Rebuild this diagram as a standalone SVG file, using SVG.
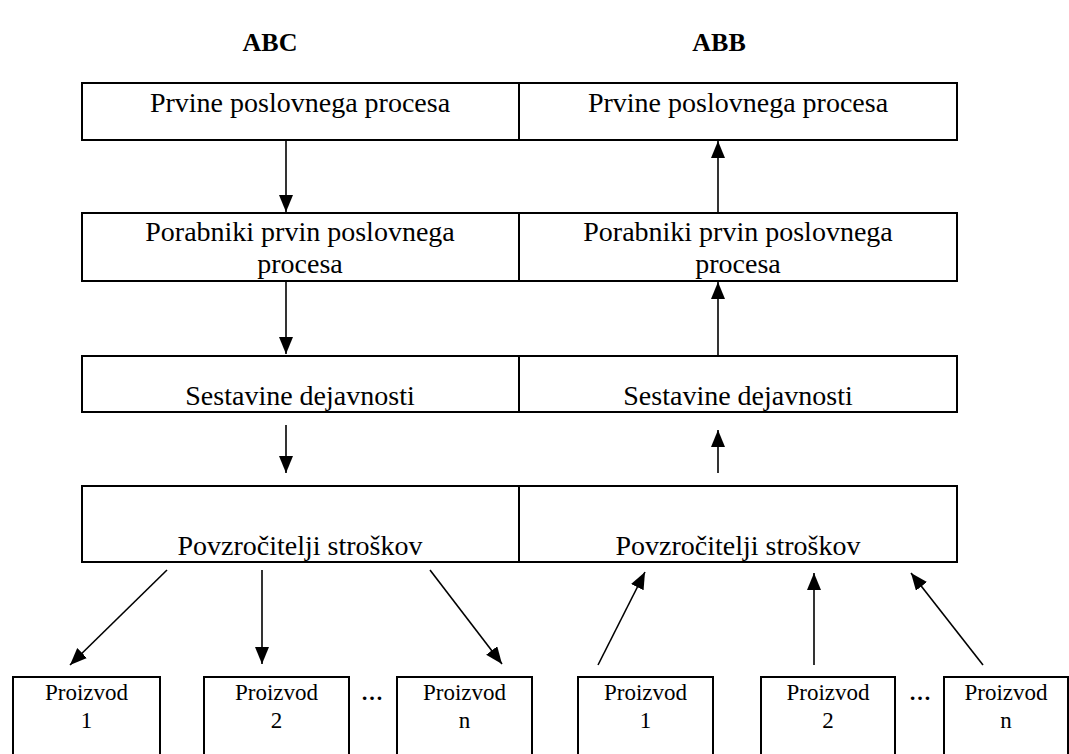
<svg xmlns="http://www.w3.org/2000/svg" width="1069" height="754" viewBox="0 0 1069 754">
<style>
.box{fill:#fff;stroke:#000;stroke-width:2}
.t{font-family:"Liberation Serif","Times New Roman",serif;font-size:28px;fill:#000;text-anchor:middle}
.p{font-family:"Liberation Serif","Times New Roman",serif;font-size:23px;fill:#000;text-anchor:middle}
.h{font-family:"Liberation Serif","Times New Roman",serif;font-size:26px;font-weight:bold;fill:#000;text-anchor:middle}
.c{stroke:#000;stroke-width:1.6;fill:none;marker-end:url(#ah)}
</style>
<defs>
<marker id="ah" markerUnits="userSpaceOnUse" markerWidth="18" markerHeight="15" refX="17" refY="7" orient="auto">
<path d="M0,0 L17,7 L0,14 z" fill="#000"/>
</marker>
</defs>
<rect width="1069" height="754" fill="#fff"/>
<g id="titles">
<text class="h" x="270" y="51">ABC</text>
<text class="h" x="719" y="51">ABB</text>
</g>
<g id="abc-prvine"><rect class="box" x="82" y="83" width="437" height="57"/><text class="t" x="300" y="112">Prvine poslovnega procesa</text></g>
<g id="abb-prvine"><rect class="box" x="519" y="83" width="438" height="57"/><text class="t" x="738" y="112">Prvine poslovnega procesa</text></g>
<g id="abc-porabniki"><rect class="box" x="82" y="213" width="437" height="68"/><text class="t" x="300" y="241">Porabniki prvin poslovnega</text><text class="t" x="300" y="273">procesa</text></g>
<g id="abb-porabniki"><rect class="box" x="519" y="213" width="438" height="68"/><text class="t" x="738" y="241">Porabniki prvin poslovnega</text><text class="t" x="738" y="273">procesa</text></g>
<g id="abc-sestavine"><rect class="box" x="82" y="356" width="437" height="56"/><text class="t" x="300" y="405">Sestavine dejavnosti</text></g>
<g id="abb-sestavine"><rect class="box" x="519" y="356" width="438" height="56"/><text class="t" x="738" y="405">Sestavine dejavnosti</text></g>
<g id="abc-povzrocitelji"><rect class="box" x="82" y="486" width="437" height="76"/><text class="t" x="300" y="555">Povzročitelji stroškov</text></g>
<g id="abb-povzrocitelji"><rect class="box" x="519" y="486" width="438" height="76"/><text class="t" x="738" y="555">Povzročitelji stroškov</text></g>
<g id="abc-p1"><rect class="box" x="13" y="677" width="147" height="90"/><text class="p" x="86.5" y="700">Proizvod</text><text class="p" x="86.5" y="728">1</text></g>
<g id="abc-p2"><rect class="box" x="204" y="677" width="145" height="90"/><text class="p" x="276.5" y="700">Proizvod</text><text class="p" x="276.5" y="728">2</text></g>
<g id="abc-pn"><rect class="box" x="397" y="677" width="135" height="90"/><text class="p" x="464.5" y="700">Proizvod</text><text class="p" x="464.5" y="728">n</text></g>
<g id="abb-p1"><rect class="box" x="578" y="677" width="135" height="90"/><text class="p" x="645.5" y="700">Proizvod</text><text class="p" x="645.5" y="728">1</text></g>
<g id="abb-p2"><rect class="box" x="761" y="677" width="134" height="90"/><text class="p" x="828" y="700">Proizvod</text><text class="p" x="828" y="728">2</text></g>
<g id="abb-pn"><rect class="box" x="944" y="677" width="124" height="90"/><text class="p" x="1006" y="700">Proizvod</text><text class="p" x="1006" y="728">n</text></g>
<g id="ellipses">
<text class="h" x="372" y="700" style="font-size:22px">…</text>
<text class="h" x="920" y="700" style="font-size:22px">…</text>
</g>
<g id="connectors">
<line class="c" x1="286" y1="141" x2="286" y2="212"/>
<line class="c" x1="286" y1="282" x2="286" y2="354"/>
<line class="c" x1="286" y1="425" x2="286" y2="473"/>
<line class="c" x1="718" y1="212" x2="718" y2="141"/>
<line class="c" x1="718" y1="355" x2="718" y2="282"/>
<line class="c" x1="718" y1="473" x2="718" y2="430"/>
<line class="c" x1="167" y1="570" x2="70" y2="665"/>
<line class="c" x1="262" y1="570" x2="262" y2="664"/>
<line class="c" x1="430" y1="570" x2="502" y2="664"/>
<line class="c" x1="598" y1="665" x2="645" y2="572"/>
<line class="c" x1="814" y1="665" x2="814" y2="573"/>
<line class="c" x1="983" y1="665" x2="911" y2="573"/>
</g>
</svg>
